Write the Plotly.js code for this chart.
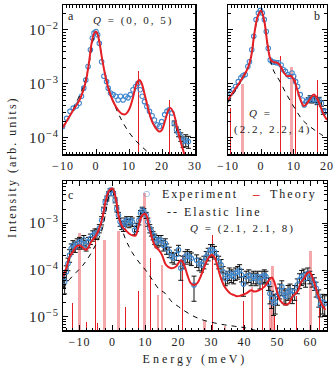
<!DOCTYPE html>
<html>
<head>
<meta charset="utf-8">
<script src="https://cdn.plot.ly/plotly-3.0.1.min.js"></script>
<style>
  html, body { margin: 0; padding: 0; background: #fff; }
  #chart text { letter-spacing: 1px; }
  #chart .annotation-text { letter-spacing: 2px; }
  #chart .g-x3title text { letter-spacing: 3px; }
</style>
</head>
<body>
<div id="chart" style="width:336px;height:371px;"></div>
<script>
// intensities are stored as log10 values, errors as relative errors (0 = no visible bar)

// ---- panel a : Q = (0,0,5)
const aExpE = [-10.1, -8.9, -7.9, -6.9, -5.9, -5.1, -4.4, -3.7, -3.1, -2.4,
    -1.7, -1.1, -0.6, 0.0, 0.5, 1.0, 1.7, 2.4, 3.2, 3.7,
    4.4, 5.2, 6.0, 6.7, 7.4, 8.2, 9.0, 9.7, 10.4, 11.2,
    12.0, 12.7, 13.4, 14.0, 14.7, 15.4, 16.2, 17.0, 17.7, 18.5,
    19.2, 19.9, 20.8, 21.5, 22.2, 23.0, 23.7, 24.4, 25.0, 25.7,
    26.4, 27.2, 28.0];
const aExpLog = [-3.79, -3.64, -3.51, -3.45, -3.41, -3.36, -3.23, -3.08, -2.93, -2.68,
    -2.37, -2.15, -2.06, -2.03, -2.09, -2.25, -2.59, -2.86, -2.96, -3.08,
    -3.17, -3.20, -3.23, -3.30, -3.23, -3.30, -3.23, -3.26, -3.20, -3.11,
    -3.05, -2.99, -3.11, -3.23, -3.33, -3.42, -3.51, -3.59, -3.67, -3.76,
    -3.79, -3.70, -3.57, -3.51, -3.48, -3.54, -3.73, -3.85, -3.91, -3.98,
    -4.07, -4.04, -4.07];
const aExpErr = [0, 0, 0, 0, 0, 0, 0, 0, 0, 0,
    0, 0, 0, 0, 0, 0, 0, 0, 0, 0,
    0, 0, 0, 0, 0, 0, 0, 0, 0, 0,
    0, 0, 0, 0, 0, 0, 0, 0, 0, 0,
    0, 0, 0, 0, 0, 0, .10, .12, .15, .18,
    .22, .25, .25];
const aThE = [-10, -8, -6, -5, -4, -3, -2, -1.5, -1, -0.5, 0, 0.5, 1, 2, 3, 4, 5, 6, 7, 8, 9, 10,
    11, 12, 12.5, 13, 13.5, 14, 15, 16, 17, 18, 19, 19.5, 20, 21, 22, 22.6, 23.5, 24.5, 25.5, 26.5, 27.5];
const aThLog = [-3.81, -3.60, -3.40, -3.30, -3.15, -2.93, -2.55, -2.31, -2.15, -2.06, -2.03, -2.08, -2.22,
    -2.59, -2.90, -3.14, -3.30, -3.42, -3.51, -3.56, -3.56, -3.48, -3.30, -3.05, -2.97, -2.93, -2.95,
    -3.02, -3.26, -3.51, -3.70, -3.81, -3.88, -3.88, -3.85, -3.67, -3.48, -3.45, -3.54, -3.79, -4.04,
    -4.25, -4.45];
const aElE = [-10, -8, -6, -4, -3, -2, -1, 0, 1, 2, 3, 4, 5, 6, 7, 8, 10, 12, 14, 16, 18];
const aElLog = [-3.80, -3.60, -3.35, -3.08, -2.88, -2.60, -2.22, -2.03, -2.22, -2.60, -2.88, -3.10,
    -3.30, -3.45, -3.58, -3.70, -3.90, -4.05, -4.17, -4.28, -4.38];
const aStickE = [13.0, 22.4];
const aStickLog = [-2.77, -3.30];
const aStickKind = ['r', 'r'];

// ---- panel b : Q = (2.2,2.2,4)
const bExpE = [-9.9, -9.1, -8.4, -7.7, -6.9, -6.1, -5.5, -4.8, -4.0, -3.5,
    -2.8, -2.2, -1.5, -0.8, -0.2, 0.4, 1.0, 1.6, 2.2, 2.8,
    3.4, 4.0, 4.7, 5.3, 6.1, 6.8, 7.4, 8.1, 8.7, 9.4,
    9.9, 10.5, 11.1, 11.9, 12.6, 13.1, 13.7, 14.3, 14.9, 15.4,
    16.2, 17.0, 17.6, 18.3, 18.9, 19.6];
const bExpLog = [-3.26, -3.17, -3.11, -3.05, -2.96, -2.89, -2.85, -2.83, -2.68, -2.59,
    -2.37, -2.12, -1.81, -1.69, -1.64, -1.69, -1.81, -2.03, -2.34, -2.56,
    -2.59, -2.60, -2.61, -2.61, -2.65, -2.74, -2.77, -2.83, -2.86, -2.80,
    -2.86, -2.96, -3.05, -3.20, -3.30, -3.39, -3.33, -3.30, -3.27, -3.30,
    -3.29, -3.33, -3.30, -3.36, -3.51, -3.51];
const bExpErr = [0, 0, 0, 0, 0, 0, 0, 0, 0, 0,
    0, 0, 0, 0, 0, 0, 0, 0, 0, 0,
    0, 0, 0, 0, 0, 0, 0, 0, 0, 0,
    0, 0, 0, 0, 0, 0, 0, .10, .12, .12,
    .12, .12, .12, .12, .12, 0];
const bThE = [-10, -8, -6, -4, -3, -2, -1, 0, 1, 2, 3, 4, 5, 6, 7, 8, 9, 10, 11, 12, 13, 14, 15, 16, 17, 18, 19, 20];
const bThLog = [-3.30, -3.11, -2.93, -2.71, -2.50, -2.06, -1.75, -1.64, -1.84, -2.28, -2.56, -2.60, -2.61,
    -2.68, -2.80, -2.86, -2.85, -2.93, -3.11, -3.30, -3.41, -3.36, -3.27, -3.20, -3.27, -3.42, -3.57, -3.67];
const bElE = [-10, -8, -6, -4, -3, -2, -1, 0, 1, 2, 3, 4, 5.5, 7.8, 10.2, 12.6, 15, 18, 20];
const bElLog = [-3.35, -3.15, -2.95, -2.72, -2.50, -2.10, -1.76, -1.64, -1.84, -2.30, -2.60, -2.78,
    -2.93, -3.20, -3.45, -3.67, -3.80, -3.93, -4.00];
const bStickE = [-9.3, -5.6, 5.9, 9.3, 10.6, 17.0];
const bStickLog = [-3.45, -3.00, -2.49, -2.68, -2.86, -2.92];
const bStickKind = ['r', 'p', 'r', 'p', 'r', 'r'];

// ---- panel c : Q = (2.1,2.1,8)
const cExpE = [-14.9, -14.5, -14.0, -13.5, -13.0, -12.5, -12.0, -11.3, -10.7, -10.0,
    -9.3, -8.7, -8.0, -7.3, -6.7, -6.0, -5.3, -4.7, -4.0, -3.3,
    -2.7, -2.2, -1.7, -1.2, -0.7, -0.2, 0.3, 0.8, 1.3, 1.8,
    2.3, 2.8, 3.3, 3.8, 4.3, 5.0, 5.5, 6.0, 6.7, 7.3,
    8.0, 8.5, 9.0, 9.5, 10.2, 10.7, 11.3, 11.8, 12.3, 12.8,
    13.5, 14.0, 14.7, 15.4, 16.0, 16.4, 17.2, 18.0, 18.7, 19.4,
    20.0, 20.7, 21.4, 22.0, 22.7, 23.4, 23.9, 24.7, 25.5, 26.2,
    27.0, 27.7, 28.4, 29.0, 29.7, 30.2, 30.9, 31.5, 32.2, 32.9,
    33.5, 34.2, 34.9, 35.4, 36.0, 36.7, 37.2, 37.9, 38.5, 39.1,
    39.7, 40.5, 41.3, 42.0, 42.7, 43.5, 44.0, 44.7, 45.3, 46.0,
    46.5, 47.3, 47.7, 48.2, 48.8, 49.3, 50.0, 50.7, 51.3, 52.0,
    52.5, 53.2, 53.8, 54.5, 55.2, 56.0, 56.7, 57.3, 58.0, 58.5,
    59.2, 59.8, 60.5, 61.2, 61.7, 62.5, 63.0, 63.7, 64.3];
const cExpLog = [-4.18, -4.25, -4.04, -3.86, -3.68, -3.54, -3.47, -3.50, -3.43, -3.40,
    -3.43, -3.36, -3.47, -3.40, -3.33, -3.26, -3.22, -3.22, -3.11, -2.94,
    -2.72, -2.55, -2.47, -2.37, -2.30, -2.30, -2.37, -2.51, -2.69, -2.83,
    -2.97, -3.04, -3.08, -2.97, -2.94, -3.00, -2.94, -2.97, -3.15, -3.08,
    -2.94, -2.79, -2.72, -2.75, -2.83, -2.97, -3.11, -3.18, -3.26, -3.33,
    -3.40, -3.36, -3.36, -3.47, -3.43, -3.54, -3.61, -3.72, -3.75, -3.67,
    -3.57, -3.96, -3.82, -3.72, -3.68, -3.72, -3.75, -4.32, -3.79, -3.86,
    -3.89, -3.82, -3.72, -3.65, -3.57, -3.57, -3.61, -3.72, -3.82, -3.89,
    -4.04, -4.18, -4.14, -4.07, -4.11, -4.14, -4.07, -4.04, -4.00, -4.10,
    -4.30, -4.14, -4.11, -4.18, -4.14, -4.18, -4.14, -4.25, -4.14, -4.11,
    -4.14, -4.28, -4.50, -4.60, -4.71, -4.68, -4.53, -4.43, -4.36, -4.53,
    -4.56, -4.46, -4.43, -4.53, -4.46, -4.32, -4.21, -4.14, -4.11, -4.18,
    -4.07, -4.14, -4.21, -4.28, -4.39, -4.57, -4.74, -4.68, -4.71];
const cExpErr = [.35, .45, .35, .30, .30, .25, .25, .25, .25, .25,
    .25, .25, .25, .25, .25, .25, .25, .25, .20, .20,
    .15, .12, .12, .10, .10, .10, .10, .12, .15, .15,
    .20, .20, .20, .20, .20, .20, .20, .20, .20, .20,
    .20, .15, .15, .15, .15, .20, .20, .20, .20, .25,
    .25, .25, .25, .25, .25, .25, .25, .25, .25, .25,
    .25, .45, .30, .30, .30, .30, .30, .55, .30, .30,
    .30, .30, .30, .30, .30, .30, .30, .30, .30, .30,
    .30, .30, .30, .30, .30, .30, .30, .30, .30, .30,
    .45, .30, .30, .30, .30, .30, .30, .30, .30, .30,
    .30, .30, .40, .40, .45, .45, .40, .35, .35, .35,
    .35, .35, .35, .35, .35, .35, .35, .35, .35, .35,
    .30, .30, .30, .30, .35, .40, .45, .45, .45];
const cThE = [-15, -14, -13, -12, -11, -10, -9, -8, -7.5, -6.5, -5, -4, -3, -2, -1, 0, 1, 2, 3, 4, 5, 6, 7,
    8, 9, 10, 11, 12, 13, 14, 15, 16.2, 17.7, 19.2, 20.7, 21.7, 22.7, 23.7, 24.7, 25.7, 26.7, 27.7,
    28.7, 29.7, 30.2, 31.0, 31.7, 32.7, 33.7, 34.7, 35.7, 36.7, 37.7, 38.7, 40.5, 42.0, 43.0, 44.5,
    46.0, 47.5, 48.3, 49.0, 50.0, 51.0, 52.5, 53.5, 54.5, 55.5, 56.3, 57.0, 58.0, 59.0, 59.7, 60.5,
    61.5, 62.5, 63.5, 64.5];
const cThLog = [-4.14, -3.96, -3.72, -3.61, -3.50, -3.47, -3.52, -3.57, -3.54, -3.40, -3.26, -3.11, -2.87,
    -2.51, -2.30, -2.26, -2.47, -2.90, -3.08, -3.15, -3.22, -3.26, -3.26, -3.04, -2.83, -2.80, -3.04,
    -3.33, -3.50, -3.57, -3.68, -3.89, -3.96, -3.93, -3.79, -3.89, -4.11, -4.28, -4.32, -4.28, -4.14,
    -3.96, -3.79, -3.69, -3.68, -3.74, -3.89, -4.14, -4.32, -4.43, -4.50, -4.53, -4.56, -4.55, -4.50,
    -4.43, -4.46, -4.43, -4.36, -4.21, -4.16, -4.25, -4.50, -4.67, -4.74, -4.71, -4.57, -4.50, -4.43,
    -4.28, -4.18, -4.07, -4.04, -4.14, -4.36, -4.57, -4.74, -4.85];
const cElE = [-15, -13, -11, -9, -7, -5, -4, -3, -2, -1, 0, 1, 2, 3, 4, 5, 6, 8, 10, 12, 14, 16, 18, 20,
    22, 25, 28, 31, 34, 37, 40, 44];
const cElLog = [-4.40, -4.20, -4.05, -3.90, -3.70, -3.45, -3.30, -3.10, -2.75, -2.40, -2.27, -2.45, -2.85,
    -3.15, -3.35, -3.50, -3.63, -3.83, -4.00, -4.20, -4.40, -4.50, -4.68, -4.78, -4.88, -5.00, -5.08,
    -5.13, -5.17, -5.20, -5.23, -5.30];
const cStickE = [-12.1, -10.1, -7.9, -5.3, -4.5, -2.4, 1.8, 4.0, 5.0, 7.8, 9.7, 11.6, 13.8, 15.0,
    21.1, 27.9, 30.3, 34.1, 39.6, 42.3, 45.4, 47.8, 48.4, 49.1, 55.9, 59.9, 62.7];
const cStickLog = [-4.71, -3.22, -5.10, -3.30, -5.14, -3.36, -3.17, -4.79, -3.16, -4.44, -2.36, -3.75,
    -4.53, -3.90, -3.68, -5.09, -3.26, -5.19, -4.66, -4.37, -4.12, -4.55, -3.92, -4.95, -4.55, -3.60, -4.75];
const cStickKind = ['r', 'p', 'r', 'r', 'r', 'p', 'p', 'r', 'r', 'r', 'p', 'r', 'p', 'p',
    'r', 'p', 'r', 'p', 'r', 'p', 'r', 'p', 'p', 'r', 'r', 'p', 'r'];

const FONT = 'Liberation Serif, Times New Roman, serif';
const RED = '#e41f26';
const PINK = 'rgba(238, 110, 115, 0.6)';
const BLUE = '#3f86cc';

const pow10 = arr => arr.map(v => Math.pow(10, v));

function stickTrace(E, logTop, kind, want, xa, ya) {
    const xs = [], ys = [];
    E.forEach((e, i) => {
        if (kind[i] === want) { xs.push(e); ys.push(Math.pow(10, logTop[i])); }
    });
    return {
        type: 'bar', x: xs, y: ys, xaxis: xa, yaxis: ya,
        width: want === 'r' ? 0.3 : 0.85,
        marker: { color: want === 'r' ? RED : PINK, line: { width: 0 } },
        showlegend: false, hoverinfo: 'skip'
    };
}

function panel(xa, ya, expE, expLog, expErr, thE, thLog, elE, elLog, sE, sLog, sKind) {
    const I = pow10(expLog);
    return [
        stickTrace(sE, sLog, sKind, 'p', xa, ya),
        stickTrace(sE, sLog, sKind, 'r', xa, ya),
        {
            type: 'scatter', mode: 'markers', x: expE, y: I, xaxis: xa, yaxis: ya,
            marker: { symbol: 'circle-open', size: 4.5, color: BLUE, line: { width: 1.1, color: BLUE } },
            // no bar where the error is too small to be seen
            error_y: {
                type: 'data', array: I.map((v, i) => expErr[i] > 0 ? v * expErr[i] : NaN),
                color: '#111', thickness: 1, width: 2.5
            },
            showlegend: false
        },
        {
            type: 'scatter', mode: 'lines', x: elE, y: pow10(elLog), xaxis: xa, yaxis: ya,
            line: { color: 'black', width: 1, dash: '5px,5px', shape: 'spline' },
            showlegend: false
        },
        {
            type: 'scatter', mode: 'lines', x: thE, y: pow10(thLog), xaxis: xa, yaxis: ya,
            line: { color: RED, width: 2, shape: 'spline' },
            showlegend: false
        }
    ];
}

const traces = [
    ...panel('x', 'y', aExpE, aExpLog, aExpErr, aThE, aThLog, aElE, aElLog, aStickE, aStickLog, aStickKind),
    ...panel('x2', 'y2', bExpE, bExpLog, bExpErr, bThE, bThLog, bElE, bElLog, bStickE, bStickLog, bStickKind),
    ...panel('x3', 'y3', cExpE, cExpLog, cExpErr, cThE, cThLog, cElE, cElLog, cStickE, cStickLog, cStickKind)
];

const axisBase = {
    showline: true, linecolor: 'black', linewidth: 1.5, mirror: 'ticks',
    ticks: 'inside', ticklen: 5, tickwidth: 1, tickcolor: 'black',
    showgrid: false, zeroline: false,
    tickfont: { family: FONT, size: 12, color: '#222' }
};
const xBase = { ...axisBase, dtick: 10, minor: { ticks: 'inside', ticklen: 2.5, dtick: 1, tickcolor: 'black' } };
const yBase = {
    ...axisBase, type: 'log', dtick: 1, exponentformat: 'power',
    minor: { ticks: 'inside', ticklen: 2.5, dtick: 'D1', tickcolor: 'black' }
};

// all annotations are centred, so the extra letter spacing spreads evenly
const ann = (text, x, y, size, extra) => ({
    text, x, y, xref: 'paper', yref: 'paper', xanchor: 'center', yanchor: 'middle', showarrow: false,
    font: { family: FONT, size, color: '#222' }, ...(extra || {})
});

const layout = {
    width: 336, height: 371,
    margin: { l: 0, r: 0, t: 0, b: 0 },
    paper_bgcolor: 'white', plot_bgcolor: 'white',
    barmode: 'overlay', bargap: 0,
    showlegend: false,
    font: { family: FONT, color: '#222' },
    xaxis: { ...xBase, domain: [0.1875, 0.5804], range: [-10, 30], anchor: 'y' },
    yaxis: { ...yBase, domain: [0.5849, 0.9865], range: [-4.3, -1.54], anchor: 'x' },
    xaxis2: { ...xBase, domain: [0.6786, 0.9732], range: [-10, 20], anchor: 'y2' },
    yaxis2: { ...yBase, domain: [0.5849, 0.9865], range: [-4.3, -1.54], anchor: 'x2', showticklabels: false },
    xaxis3: {
        ...xBase, domain: [0.1875, 0.9732], range: [-15, 65], anchor: 'y3',
        minor: { ticks: 'inside', ticklen: 2.5, dtick: 2, tickcolor: 'black' },
        title: { text: 'Energy (meV)', font: { family: FONT, size: 12, color: '#222' }, standoff: 6 }
    },
    yaxis3: { ...yBase, domain: [0.1105, 0.5121], range: [-5.28, -2.1], anchor: 'x3' },
    annotations: [
        ann('Intensity (arb. units)', 0.036, 0.55, 12, { textangle: -90 }),
        ann('a', 0.214, 0.957, 12),
        ann('<i>Q</i> = (0, 0, 5)', 0.396, 0.946, 11),
        ann('b', 0.946, 0.957, 12),
        ann('<i>Q</i> =', 0.774, 0.695, 11),
        ann('(2.2, 2.2, 4)', 0.8125, 0.652, 11),
        ann('c', 0.214, 0.474, 12),
        ann('<i>Q</i> = (2.1, 2.1, 8)', 0.723, 0.383, 11),
        ann('○', 0.440, 0.478, 8, { font: { family: 'DejaVu Sans', size: 8, color: BLUE } }),
        ann('Experiment', 0.597, 0.477, 12),
        ann('–', 0.765, 0.479, 13, { font: { family: FONT, size: 13, color: RED, weight: 'bold' } }),
        ann('Theory', 0.874, 0.477, 12),
        ann('-- Elastic line', 0.638, 0.4286, 12)
    ]
};

Plotly.newPlot('chart', traces, layout, { staticPlot: true, displayModeBar: false });
</script>
</body>
</html>
